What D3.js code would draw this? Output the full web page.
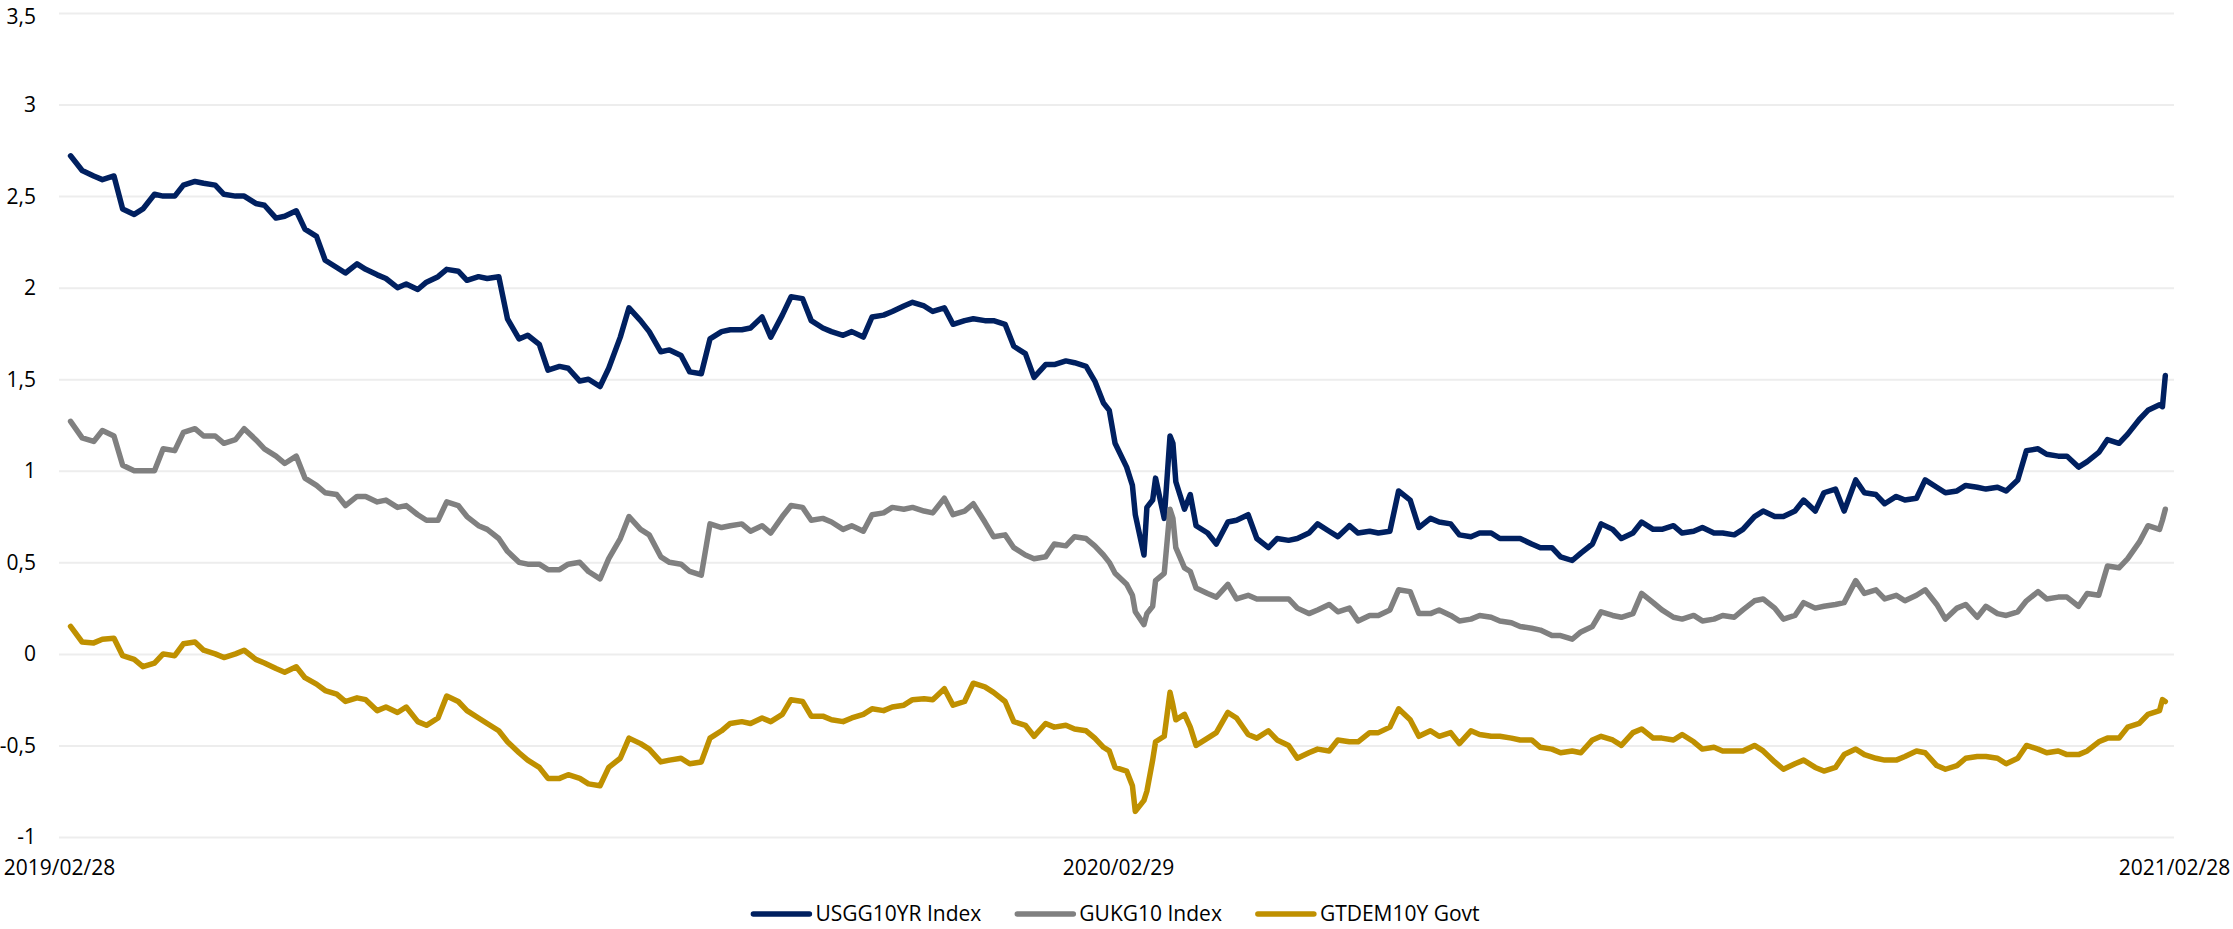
<!DOCTYPE html>
<html>
<head>
<meta charset="utf-8">
<script src="https://cdn.jsdelivr.net/npm/d3@7"></script>
<style>
    body { margin: 0; background: #ffffff; }
    text { font-family: "Open Sans", "Liberation Sans", sans-serif; fill: #000000; }
</style>
</head>
<body>
<script>
//observation dates (twice a week, daily around the March 2020 crash)
var dates = [
    "2019-03-04","2019-03-08","2019-03-12","2019-03-15","2019-03-19","2019-03-22","2019-03-26","2019-03-29",
    "2019-04-02","2019-04-05","2019-04-09","2019-04-12","2019-04-16","2019-04-19","2019-04-23","2019-04-26",
    "2019-04-30","2019-05-03","2019-05-07","2019-05-10","2019-05-14","2019-05-17","2019-05-21","2019-05-24","2019-05-28","2019-05-31",
    "2019-06-04","2019-06-07","2019-06-11","2019-06-14","2019-06-18","2019-06-21","2019-06-25","2019-06-28",
    "2019-07-02","2019-07-05","2019-07-09","2019-07-12","2019-07-16","2019-07-19","2019-07-23","2019-07-26",
    "2019-07-30","2019-08-02","2019-08-06","2019-08-09","2019-08-13","2019-08-16","2019-08-20","2019-08-23","2019-08-27","2019-08-30",
    "2019-09-03","2019-09-06","2019-09-10","2019-09-13","2019-09-17","2019-09-20","2019-09-24","2019-09-27",
    "2019-10-01","2019-10-04","2019-10-08","2019-10-11","2019-10-15","2019-10-18","2019-10-22","2019-10-25",
    "2019-10-29","2019-11-01","2019-11-05","2019-11-08","2019-11-12","2019-11-15","2019-11-19","2019-11-22","2019-11-26","2019-11-29",
    "2019-12-03","2019-12-06","2019-12-10","2019-12-13","2019-12-17","2019-12-20","2019-12-24","2019-12-27",
    "2019-12-31","2020-01-03","2020-01-07","2020-01-10","2020-01-14","2020-01-17","2020-01-21","2020-01-24","2020-01-28","2020-01-31",
    "2020-02-04","2020-02-07","2020-02-11","2020-02-14","2020-02-18","2020-02-21","2020-02-24","2020-02-26","2020-02-28",
    "2020-03-03","2020-03-05","2020-03-06","2020-03-09","2020-03-10","2020-03-12","2020-03-13","2020-03-16","2020-03-18","2020-03-19","2020-03-20","2020-03-23","2020-03-25","2020-03-27",
    "2020-03-31","2020-04-03","2020-04-07","2020-04-10","2020-04-14","2020-04-17","2020-04-21","2020-04-24",
    "2020-04-28","2020-05-01","2020-05-05","2020-05-08","2020-05-12","2020-05-15","2020-05-19","2020-05-22","2020-05-26","2020-05-29",
    "2020-06-02","2020-06-05","2020-06-09","2020-06-12","2020-06-16","2020-06-19","2020-06-23","2020-06-26",
    "2020-06-30","2020-07-03","2020-07-07","2020-07-10","2020-07-14","2020-07-17","2020-07-21","2020-07-24","2020-07-28","2020-07-31",
    "2020-08-04","2020-08-07","2020-08-11","2020-08-14","2020-08-18","2020-08-21","2020-08-25","2020-08-28",
    "2020-09-01","2020-09-04","2020-09-08","2020-09-11","2020-09-15","2020-09-18","2020-09-22","2020-09-25",
    "2020-09-29","2020-10-02","2020-10-06","2020-10-09","2020-10-13","2020-10-16","2020-10-20","2020-10-23","2020-10-27","2020-10-30",
    "2020-11-03","2020-11-06","2020-11-10","2020-11-13","2020-11-17","2020-11-20","2020-11-24","2020-11-27",
    "2020-12-01","2020-12-04","2020-12-08","2020-12-11","2020-12-15","2020-12-18","2020-12-22","2020-12-25",
    "2020-12-29","2021-01-01","2021-01-05","2021-01-08","2021-01-12","2021-01-15","2021-01-19","2021-01-22","2021-01-26","2021-01-29",
    "2021-02-02","2021-02-05","2021-02-09","2021-02-12","2021-02-16","2021-02-19","2021-02-23","2021-02-24","2021-02-25"
];

//USGG10YR Index
var usValues = [
    2.72, 2.64, 2.61, 2.59, 2.61, 2.43, 2.40, 2.43,
    2.51, 2.50, 2.50, 2.56, 2.58, 2.57, 2.56, 2.51,
    2.50, 2.50, 2.46, 2.45, 2.38, 2.39, 2.42, 2.32, 2.28, 2.15,
    2.11, 2.08, 2.13, 2.10, 2.07, 2.05, 2.00, 2.02,
    1.99, 2.03, 2.06, 2.10, 2.09, 2.04, 2.06, 2.05,
    2.06, 1.83, 1.72, 1.74, 1.69, 1.55, 1.57, 1.56, 1.49, 1.50,
    1.46, 1.56, 1.73, 1.89, 1.82, 1.76, 1.65, 1.66,
    1.63, 1.54, 1.53, 1.72, 1.76, 1.77, 1.77, 1.78,
    1.84, 1.73, 1.85, 1.95, 1.94, 1.82, 1.78, 1.76, 1.74, 1.76,
    1.73, 1.84, 1.85, 1.87, 1.90, 1.92, 1.90, 1.87,
    1.89, 1.80, 1.82, 1.83, 1.82, 1.82, 1.80, 1.68, 1.64, 1.51,
    1.58, 1.58, 1.60, 1.59, 1.57, 1.49, 1.37, 1.33, 1.15,
    1.02, 0.92, 0.76, 0.54, 0.80, 0.84, 0.96, 0.74, 1.19, 1.15, 0.94, 0.79, 0.87, 0.70,
    0.66, 0.60, 0.72, 0.73, 0.76, 0.63, 0.58, 0.63,
    0.62, 0.63, 0.66, 0.71, 0.67, 0.64, 0.70, 0.66, 0.67, 0.66,
    0.67, 0.89, 0.84, 0.69, 0.74, 0.72, 0.71, 0.65,
    0.64, 0.66, 0.66, 0.63, 0.63, 0.63, 0.60, 0.58, 0.58, 0.53,
    0.51, 0.55, 0.60, 0.71, 0.68, 0.63, 0.66, 0.72,
    0.68, 0.68, 0.70, 0.66, 0.67, 0.69, 0.66, 0.66,
    0.65, 0.68, 0.75, 0.78, 0.75, 0.75, 0.78, 0.84, 0.78, 0.88,
    0.90, 0.78, 0.95, 0.88, 0.87, 0.82, 0.86, 0.84,
    0.85, 0.95, 0.91, 0.88, 0.89, 0.92, 0.91, 0.90,
    0.91, 0.89, 0.95, 1.11, 1.12, 1.09, 1.08, 1.08, 1.02, 1.05,
    1.10, 1.17, 1.15, 1.20, 1.28, 1.33, 1.36, 1.35, 1.52
];

//GUKG10 Index
var ukValues = [
    1.27, 1.18, 1.16, 1.22, 1.19, 1.03, 1.00, 1.00,
    1.00, 1.12, 1.11, 1.21, 1.23, 1.19, 1.19, 1.15,
    1.17, 1.23, 1.17, 1.12, 1.08, 1.04, 1.08, 0.96, 0.92, 0.88,
    0.87, 0.81, 0.86, 0.86, 0.83, 0.84, 0.80, 0.81,
    0.76, 0.73, 0.73, 0.83, 0.81, 0.75, 0.70, 0.68,
    0.63, 0.56, 0.50, 0.49, 0.49, 0.46, 0.46, 0.49, 0.50, 0.45,
    0.41, 0.52, 0.63, 0.75, 0.68, 0.65, 0.53, 0.50,
    0.49, 0.45, 0.43, 0.71, 0.69, 0.70, 0.71, 0.67,
    0.70, 0.66, 0.75, 0.81, 0.80, 0.73, 0.74, 0.72, 0.68, 0.70,
    0.67, 0.76, 0.77, 0.80, 0.79, 0.80, 0.78, 0.77,
    0.85, 0.76, 0.78, 0.82, 0.72, 0.64, 0.65, 0.58, 0.54, 0.52,
    0.53, 0.60, 0.59, 0.64, 0.63, 0.59, 0.54, 0.50, 0.44,
    0.38, 0.32, 0.23, 0.16, 0.22, 0.26, 0.40, 0.44, 0.79, 0.74, 0.58, 0.47, 0.45, 0.36,
    0.33, 0.31, 0.38, 0.30, 0.32, 0.30, 0.30, 0.30,
    0.30, 0.25, 0.22, 0.24, 0.27, 0.23, 0.25, 0.18, 0.21, 0.21,
    0.24, 0.35, 0.34, 0.22, 0.22, 0.24, 0.21, 0.18,
    0.19, 0.21, 0.20, 0.18, 0.17, 0.15, 0.14, 0.13, 0.10, 0.10,
    0.08, 0.12, 0.15, 0.23, 0.21, 0.20, 0.22, 0.33,
    0.28, 0.24, 0.20, 0.19, 0.21, 0.18, 0.19, 0.21,
    0.20, 0.24, 0.29, 0.30, 0.25, 0.19, 0.21, 0.28, 0.25, 0.26,
    0.27, 0.28, 0.40, 0.33, 0.35, 0.30, 0.32, 0.29,
    0.32, 0.35, 0.27, 0.19, 0.25, 0.27, 0.20, 0.26,
    0.22, 0.21, 0.23, 0.29, 0.34, 0.30, 0.31, 0.31, 0.26, 0.33,
    0.32, 0.48, 0.47, 0.52, 0.61, 0.70, 0.68, 0.73, 0.79
];

//GTDEM10Y Govt
var deValues = [
    0.15, 0.065, 0.06, 0.08, 0.085, -0.01, -0.03, -0.07,
    -0.05, 0.00, -0.01, 0.055, 0.065, 0.02, 0.00, -0.02,
    0.00, 0.02, -0.03, -0.05, -0.08, -0.10, -0.07, -0.13, -0.165, -0.20,
    -0.22, -0.26, -0.24, -0.25, -0.31, -0.29, -0.32, -0.29,
    -0.37, -0.39, -0.35, -0.23, -0.26, -0.31, -0.35, -0.38,
    -0.42, -0.48, -0.54, -0.58, -0.62, -0.68, -0.68, -0.66, -0.68, -0.71,
    -0.72, -0.62, -0.57, -0.46, -0.49, -0.52, -0.59, -0.58,
    -0.57, -0.60, -0.59, -0.46, -0.42, -0.38, -0.37, -0.38,
    -0.35, -0.37, -0.33, -0.25, -0.26, -0.34, -0.34, -0.36, -0.37, -0.35,
    -0.33, -0.30, -0.31, -0.29, -0.28, -0.25, -0.245, -0.25,
    -0.19, -0.28, -0.26, -0.16, -0.18, -0.21, -0.26, -0.37, -0.39, -0.45,
    -0.38, -0.40, -0.39, -0.41, -0.42, -0.46, -0.51, -0.53, -0.62,
    -0.64, -0.72, -0.86, -0.80, -0.75, -0.58, -0.48, -0.45, -0.21, -0.28, -0.36, -0.33, -0.40, -0.50,
    -0.46, -0.43, -0.32, -0.35, -0.44, -0.46, -0.42, -0.47,
    -0.50, -0.57, -0.54, -0.52, -0.53, -0.47, -0.48, -0.48, -0.43, -0.43,
    -0.40, -0.30, -0.36, -0.45, -0.42, -0.45, -0.43, -0.49,
    -0.42, -0.44, -0.45, -0.45, -0.46, -0.47, -0.47, -0.51, -0.52, -0.54,
    -0.53, -0.54, -0.47, -0.45, -0.47, -0.50, -0.43, -0.41,
    -0.46, -0.46, -0.47, -0.44, -0.48, -0.52, -0.51, -0.53,
    -0.53, -0.53, -0.50, -0.53, -0.59, -0.63, -0.60, -0.58, -0.62, -0.64,
    -0.62, -0.55, -0.52, -0.55, -0.57, -0.58, -0.58, -0.56,
    -0.53, -0.54, -0.61, -0.63, -0.61, -0.57, -0.56, -0.56,
    -0.57, -0.60, -0.57, -0.50, -0.52, -0.54, -0.53, -0.55, -0.55, -0.53,
    -0.48, -0.46, -0.46, -0.40, -0.38, -0.33, -0.31, -0.25, -0.26
];

var seriesNames = ["USGG10YR Index", "GUKG10 Index", "GTDEM10Y Govt"];
var seriesColors = ["#002060", "#808080", "#BF9000"];
var yTicks = [-1, -0.5, 0, 0.5, 1, 1.5, 2, 2.5, 3, 3.5];
var xTickLabels = ["2019/02/28", "2020/02/29", "2021/02/28"];

window.onload = function(){
    var width = 2233,
        height = 929;

    var parseDate = d3.utcParse("%Y-%m-%d");
    var parseLabel = d3.utcParse("%Y/%m/%d");

    //european style numbers: comma decimal, plain hyphen minus
    var locale = d3.formatLocale({
        decimal: ",",
        thousands: ".",
        grouping: [3],
        currency: ["", " €"],
        minus: "-"
    });
    var yFormat = locale.format("");

    var container = d3.select("body")
        .append("svg")
        .attr("width", width)
        .attr("height", height)
        .attr("class", "container");

    var x = d3.scaleUtc()
        .domain([parseLabel(xTickLabels[0]), parseLabel(xTickLabels[2])])
        .range([59, 2174]);

    var y = d3.scaleLinear()
        .domain([-1, 3.5])
        .range([837, 13]);

    //horizontal gridlines with the value labels on the left
    var yAxis = d3.axisLeft(y)
        .tickValues(yTicks)
        .tickSize(-(x.range()[1] - x.range()[0]))
        .tickPadding(23)
        .tickFormat(yFormat);

    var axis = container.append("g")
        .attr("class", "axis")
        .attr("transform", "translate(" + x.range()[0] + ",0)")
        .call(yAxis);

    axis.select(".domain").remove();
    axis.selectAll(".tick line")
        .attr("stroke", "#EDEDED")
        .attr("stroke-width", 2);
    axis.selectAll(".tick text")
        .style("font-size", "21px")
        .attr("fill", "#000000")
        .attr("dy", function(d){
            //keep the top label inside the picture
            return d === 3.5 ? "0.5em" : "0.33em";
        });

    //three date labels under the plot
    var xAxis = d3.axisBottom(x)
        .tickValues(xTickLabels.map(function(d){ return parseLabel(d); }))
        .tickSize(0)
        .tickPadding(20)
        .tickFormat(function(d, i){ return xTickLabels[i]; });

    var xAxisG = container.append("g")
        .attr("class", "xaxis")
        .attr("transform", "translate(0," + 840 + ")")
        .call(xAxis);

    xAxisG.select(".domain").remove();
    xAxisG.selectAll(".tick text")
        .style("font-size", "21px")
        .attr("fill", "#000000");

    //pair dates with each series
    var allValues = [usValues, ukValues, deValues];
    var series = allValues.map(function(vals, s){
        return {
            name: seriesNames[s],
            color: seriesColors[s],
            points: vals.map(function(v, i){
                return { date: parseDate(dates[i]), value: v };
            })
        };
    });

    var line = d3.line()
        .defined(function(d){ return d.date !== null; })
        .x(function(d){ return x(d.date); })
        .y(function(d){ return y(d.value); });

    container.selectAll(".series")
        .data(series)
        .enter()
        .append("path")
        .attr("class", "series")
        .attr("d", function(d){ return line(d.points); })
        .attr("fill", "none")
        .attr("stroke", function(d){ return d.color; })
        .attr("stroke-width", 5.5)
        .attr("stroke-linejoin", "round")
        .attr("stroke-linecap", "round");

    //legend, centred under the plot
    var legend = container.append("g")
        .attr("class", "legend");

    var items = legend.selectAll(".legendItem")
        .data(series)
        .enter()
        .append("g")
        .attr("class", "legendItem");

    items.append("line")
        .attr("x1", 0)
        .attr("x2", 56)
        .attr("y1", 914)
        .attr("y2", 914)
        .attr("stroke", function(d){ return d.color; })
        .attr("stroke-width", 5.5)
        .attr("stroke-linecap", "round");

    items.append("text")
        .attr("x", 62)
        .attr("y", 921)
        .style("font-size", "21px")
        .text(function(d){ return d.name; });

    var offset = 0;
    var widths = [];
    items.each(function(){
        var w = 62 + d3.select(this).select("text").node().getComputedTextLength();
        widths.push(w);
    });
    var gap = 36;
    var total = d3.sum(widths) + gap * (widths.length - 1);
    var start = (x.range()[0] + x.range()[1]) / 2 - total / 2;
    items.attr("transform", function(d, i){
        var tx = start + offset;
        offset += widths[i] + gap;
        return "translate(" + tx + ",0)";
    });
};
</script>
</body>
</html>
